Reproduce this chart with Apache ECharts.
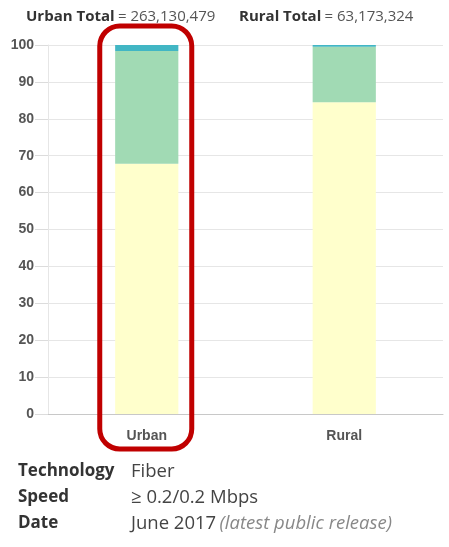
<!DOCTYPE html>
<html><head><meta charset="utf-8">
<script src="https://cdn.jsdelivr.net/npm/echarts@6/dist/echarts.min.js"></script>
<style>html,body{margin:0;padding:0;background:#fff}#c{width:449px;height:547px}</style>
</head><body><div id="c"></div>
<script>
const categories = ['Urban', 'Rural'];
const seriesNames = ['Fiber', 'Other', 'None'];
const fiberVals = [67.8, 84.5];
const otherVals = [30.6, 15.0];
const noneVals = [1.6, 0.5];
const totals = ['263,130,479', '63,173,324'];
const yTicks = [0, 10, 20, 30, 40, 50, 60, 70, 80, 90, 100];
const infoLabels = ['Technology', 'Speed', 'Date'];
const infoValues = ['Fiber', '≥ 0.2/0.2 Mbps', 'June 2017'];
const infoNote = '(latest public release)';

const colors = ['#ffffcc', '#a1dab4', '#41b6c4'];
const chart = echarts.init(document.getElementById('c'));
const font = '"Open Sans", "Liberation Sans", sans-serif';
const axisFont = '"Liberation Sans", Arial, sans-serif';

function mk(name, data, i) {
  return { name, type: 'bar', stack: 's', data, barWidth: '32%',
    itemStyle: { color: colors[i] }, silent: true, animation: false };
}

const option = {
  animation: false,
  grid: { left: 48, right: 6, top: 45, bottom: 133 },
  xAxis: { type: 'category', data: categories,
    axisLine: { lineStyle: { color: '#c8c8c8' } },
    axisTick: { show: false },
    axisLabel: { color: '#555', fontWeight: 'bold', fontSize: 14, fontFamily: axisFont, margin: 15 } },
  yAxis: { type: 'value', min: yTicks[0], max: yTicks[yTicks.length - 1], interval: 10,
    axisLine: { show: true, lineStyle: { color: '#e6e6e6' } },
    axisTick: { show: true, length: 13, lineStyle: { color: '#dcdcdc' } },
    splitLine: { lineStyle: { color: '#e6e6e6' } },
    axisLabel: { color: '#555', fontWeight: 'bold', fontSize: 14, fontFamily: axisFont, margin: 14 } },
  series: [mk(seriesNames[0], fiberVals, 0), mk(seriesNames[1], otherVals, 1), mk(seriesNames[2], noneVals, 2)],
  graphic: []
};
chart.setOption(option);

const g = [];
// header totals
const hx = [26, 239];
categories.forEach((c, i) => {
  g.push({ type: 'text', left: hx[i], top: 9, style: {
    text: '{b|' + c + ' Total} {n|= ' + totals[i] + '}',
    rich: { b: { fontFamily: font, fontWeight: 'bold', fontSize: 15, fill: '#333' },
            n: { fontFamily: font, fontSize: 15, fill: '#555' } } } });
});
// highlight box around Urban
const p100 = chart.convertToPixel({ gridIndex: 0 }, [categories[0], 100]);
g.push({ type: 'rect', shape: { x: p100[0] - 47, y: 26, width: 92, height: 423, r: 20 },
  style: { fill: 'none', stroke: '#c00000', lineWidth: 5 }, z: 100 });
// info block
infoLabels.forEach((l, i) => {
  const y = 462 + i * 26;
  g.push({ type: 'text', left: 18, top: y + 1, style: { text: l, fontFamily: font, fontWeight: 'bold', fontSize: 17, fill: '#333' } });
  if (i === 2) {
    g.push({ type: 'text', left: 131, top: y, style: {
      text: '{v|' + infoValues[i] + '} {n|' + infoNote + '}',
      rich: { v: { fontFamily: font, fontSize: 18.5, fill: '#444' },
              n: { fontFamily: font, fontSize: 18.5, fontStyle: 'italic', fill: '#888' } } } });
  } else {
    g.push({ type: 'text', left: 131, top: y, style: { text: infoValues[i], fontFamily: font, fontSize: 18.5, fill: '#444' } });
  }
});
chart.setOption({ graphic: g });
</script></body></html>
